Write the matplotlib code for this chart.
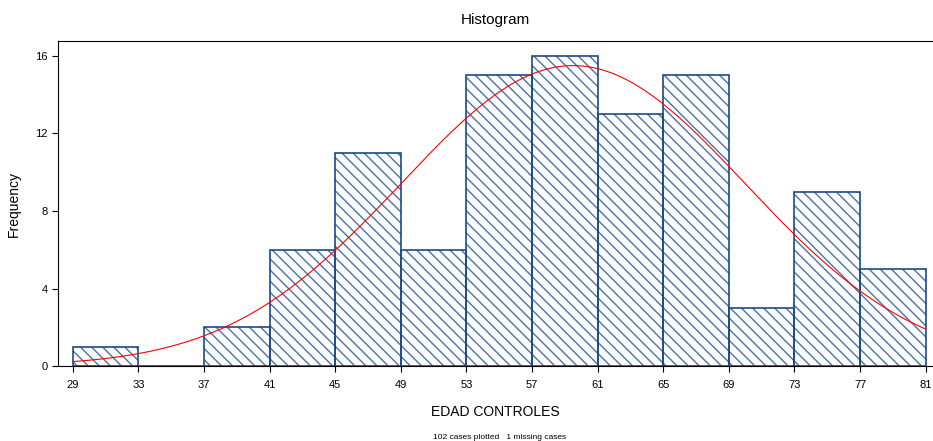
import numpy as np
import matplotlib.pyplot as plt

plt.rcParams['font.family'] = ['Liberation Sans', 'DejaVu Sans']
plt.rcParams['hatch.linewidth'] = 1.0

# datos del histograma (limites de clase y frecuencias)
bin_edges = [29, 33, 37, 41, 45, 49, 53, 57, 61, 65, 69, 73, 77, 81]
counts = [1, 0, 2, 6, 11, 6, 15, 16, 13, 15, 3, 9, 5]
mean_edad = 59.5
sd_edad = 10.5
n_cases = 102
n_missing = 1

fig = plt.figure(figsize=(9.33, 4.41), dpi=100)
ax = fig.add_axes([0.0622, 0.170, 0.937, 0.737])

lefts = np.array(bin_edges[:-1])
widths = np.diff(bin_edges)
ax.bar(lefts, counts, width=widths, align='edge', color='white',
       edgecolor='#4a72aa', hatch='\\\\\\', linewidth=0)
ax.bar(lefts, counts, width=widths, align='edge', fill=False,
       edgecolor='#1b4a86', linewidth=1.2)

# curva normal
xs = np.linspace(bin_edges[0], bin_edges[-1], 300)
scale = n_cases * widths[0] / (sd_edad * np.sqrt(2 * np.pi))
ax.plot(xs, scale * np.exp(-0.5 * ((xs - mean_edad) / sd_edad) ** 2),
        color='red', linewidth=0.8)

ax.set_xlim(28.1, 81.4)
ax.set_ylim(0, 16.77)
ax.set_xticks(bin_edges)
ax.set_yticks([0, 4, 8, 12, 16])
ax.tick_params(labelsize=8, length=4, width=0.8, direction='out')
ax.tick_params(axis='x', pad=6)
ax.spines['right'].set_visible(False)
ax.spines['left'].set_bounds(0, 16.77)

ax.set_title('Histogram', fontsize=11, pad=12)
ax.set_xlabel('EDAD CONTROLES', fontsize=10, labelpad=11)
ax.set_ylabel('Frequency', fontsize=10, labelpad=10)
fig.text(0.535, 0.005, '%d cases plotted   %d missing cases' % (n_cases, n_missing),
         ha='center', fontsize=6)

plt.savefig('out.png')
plt.close()
